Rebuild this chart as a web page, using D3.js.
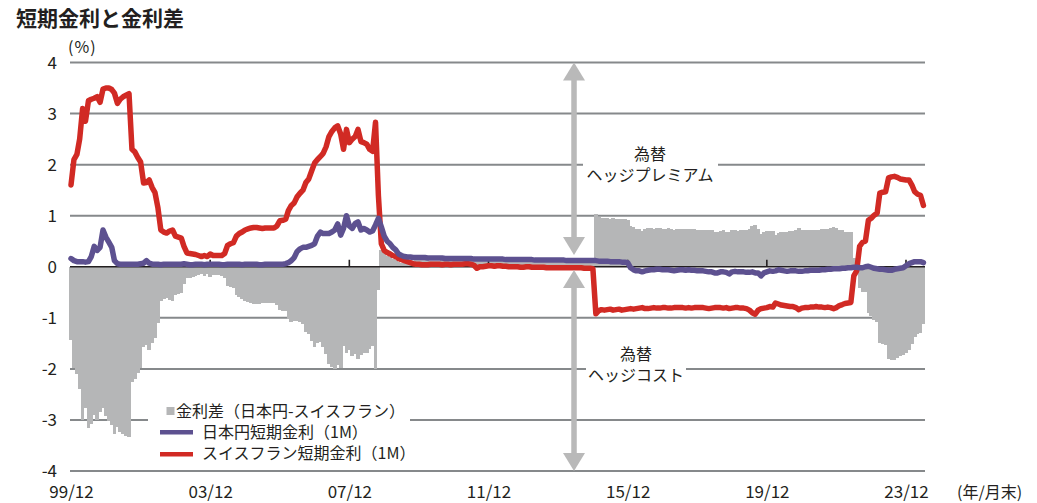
<!DOCTYPE html>
<html>
<head>
<meta charset="utf-8">
<script src="https://cdn.jsdelivr.net/npm/d3@7"></script>
<style>
  body { margin: 0; background: #fff; }
  text { font-family: "Noto Sans CJK JP", "Noto Sans", sans-serif; fill: #231f20; }
</style>
</head>
<body>
<div id="svgcontainer"></div>
<script>
// monthly data, first month 99/12, last 24/6
const firstMonth = "1999-12";

// japanese yen 1M rate (%)
const jpy1m = [
  0.16,
  // 2000
  0.12, 0.10, 0.10, 0.10, 0.09, 0.10, 0.20, 0.40, 0.32, 0.38, 0.72, 0.58,
  // 2001
  0.48, 0.38, 0.12, 0.06, 0.05, 0.05, 0.05, 0.05, 0.05, 0.05, 0.05, 0.06,
  // 2002
  0.07, 0.12, 0.07, 0.05, 0.05, 0.05, 0.04, 0.05, 0.05, 0.05, 0.05, 0.05,
  // 2003
  0.05, 0.05, 0.06, 0.05, 0.04, 0.04, 0.05, 0.05, 0.05, 0.04, 0.05, 0.05,
  // 2004
  0.05, 0.05, 0.05, 0.04, 0.04, 0.05, 0.05, 0.05, 0.05, 0.05, 0.04, 0.05,
  // 2005
  0.05, 0.05, 0.05, 0.05, 0.04, 0.04, 0.05, 0.05, 0.05, 0.05, 0.05, 0.05,
  // 2006
  0.05, 0.06, 0.08, 0.12, 0.18, 0.30, 0.35, 0.38, 0.38, 0.40, 0.42, 0.45,
  // 2007
  0.60, 0.68, 0.65, 0.65, 0.65, 0.68, 0.72, 0.84, 0.62, 0.75, 1.00, 0.80,
  // 2008
  0.75, 0.85, 0.88, 0.72, 0.75, 0.72, 0.68, 0.70, 0.82, 0.95, 0.78, 0.60,
  // 2009
  0.50, 0.45, 0.38, 0.33, 0.25, 0.22, 0.20, 0.19, 0.19, 0.18, 0.18, 0.18,
  // 2010
  0.18, 0.18, 0.17, 0.17, 0.17, 0.17, 0.17, 0.17, 0.16, 0.16, 0.16, 0.16,
  // 2011
  0.16, 0.16, 0.16, 0.16, 0.16, 0.16, 0.15, 0.15, 0.15, 0.15, 0.15, 0.15,
  // 2012
  0.15, 0.15, 0.15, 0.15, 0.15, 0.14, 0.14, 0.14, 0.14, 0.14, 0.14, 0.14,
  // 2013
  0.14, 0.14, 0.14, 0.13, 0.13, 0.13, 0.13, 0.13, 0.13, 0.13, 0.13, 0.13,
  // 2014
  0.13, 0.13, 0.12, 0.12, 0.12, 0.12, 0.12, 0.12, 0.12, 0.12, 0.12, 0.12,
  // 2015
  0.12, 0.11, 0.11, 0.11, 0.11, 0.10, 0.10, 0.10, 0.10, 0.09, 0.09, 0.08,
  // 2016
  -0.02, -0.06, -0.08, -0.08, -0.10, -0.08, -0.07, -0.06, -0.06, -0.05, -0.05, -0.06,
  // 2017
  -0.06, -0.06, -0.07, -0.08, -0.07, -0.06, -0.06, -0.07, -0.06, -0.07, -0.07, -0.08,
  // 2018
  -0.08, -0.08, -0.09, -0.10, -0.10, -0.12, -0.12, -0.10, -0.10, -0.11, -0.14, -0.10,
  // 2019
  -0.09, -0.10, -0.10, -0.10, -0.11, -0.11, -0.10, -0.12, -0.12, -0.18, -0.12, -0.10,
  // 2020
  -0.08, -0.09, -0.08, -0.06, -0.07, -0.08, -0.09, -0.08, -0.08, -0.08, -0.09, -0.09,
  // 2021
  -0.08, -0.08, -0.07, -0.07, -0.07, -0.07, -0.06, -0.06, -0.05, -0.05, -0.04, -0.04,
  // 2022
  -0.04, -0.03, -0.03, -0.02, -0.02, -0.01, -0.01, -0.02, -0.02, 0.00, 0.01, -0.01,
  // 2023
  -0.03, -0.04, -0.05, -0.05, -0.06, -0.07, -0.07, -0.05, -0.04, -0.03, -0.02, 0.02,
  // 2024
  0.06, 0.08, 0.10, 0.10, 0.10, 0.08
];

// swiss franc 1M rate (%)
const chf1m = [
  1.60,
  // 2000
  2.10, 2.20, 2.50, 3.10, 2.85, 3.25, 3.28, 3.30, 3.33, 3.22, 3.48, 3.50,
  // 2001
  3.50, 3.47, 3.40, 3.20, 3.28, 3.33, 3.36, 3.39, 2.30, 2.25, 2.14, 2.05,
  // 2002
  1.64, 1.65, 1.70, 1.55, 1.45, 1.15, 0.72, 0.68, 0.66, 0.70, 0.72, 0.60,
  // 2003
  0.58, 0.56, 0.40, 0.27, 0.26, 0.25, 0.24, 0.22, 0.20, 0.22, 0.20, 0.25,
  // 2004
  0.22, 0.22, 0.22, 0.22, 0.26, 0.42, 0.45, 0.47, 0.60, 0.65, 0.68, 0.72,
  // 2005
  0.74, 0.76, 0.77, 0.77, 0.76, 0.75, 0.76, 0.76, 0.76, 0.76, 0.80, 0.90,
  // 2006
  0.91, 0.93, 1.10, 1.20, 1.25, 1.37, 1.44, 1.50, 1.65, 1.72, 1.88, 2.03,
  // 2007
  2.10, 2.16, 2.22, 2.35, 2.55, 2.65, 2.72, 2.76, 2.60, 2.30, 2.69, 2.43,
  // 2008
  2.50, 2.55, 2.69, 2.45, 2.43, 2.40, 2.30, 2.26, 2.83, 1.40, 0.45, 0.32,
  // 2009
  0.28, 0.25, 0.22, 0.20, 0.16, 0.14, 0.12, 0.10, 0.08, 0.06, 0.05, 0.05,
  // 2010
  0.04, 0.04, 0.04, 0.05, 0.05, 0.05, 0.05, 0.04, 0.05, 0.05, 0.04, 0.05,
  // 2011
  0.05, 0.05, 0.05, 0.06, 0.06, 0.05, 0.03, -0.03, 0.00, 0.00, 0.01, 0.02,
  // 2012
  0.02, 0.01, 0.02, 0.02, 0.01, 0.01, 0.00, 0.00, 0.00, 0.00, -0.01, -0.01,
  // 2013
  0.00, 0.00, -0.01, -0.01, -0.01, -0.01, -0.01, -0.02, -0.02, -0.02, -0.02, -0.02,
  // 2014
  -0.02, -0.02, -0.02, -0.02, -0.02, -0.02, -0.02, -0.02, -0.03, -0.03, -0.03, -0.04,
  // 2015
  -0.92, -0.86, -0.84, -0.85, -0.84, -0.83, -0.85, -0.84, -0.83, -0.85, -0.84, -0.83,
  // 2016
  -0.82, -0.83, -0.82, -0.81, -0.80, -0.82, -0.82, -0.81, -0.80, -0.81, -0.81, -0.80,
  // 2017
  -0.80, -0.81, -0.81, -0.80, -0.80, -0.80, -0.80, -0.81, -0.80, -0.81, -0.80, -0.80,
  // 2018
  -0.80, -0.80, -0.81, -0.82, -0.81, -0.80, -0.80, -0.80, -0.81, -0.80, -0.82, -0.81,
  // 2019
  -0.80, -0.80, -0.81, -0.81, -0.82, -0.85, -0.90, -0.93, -0.85, -0.82, -0.81, -0.80,
  // 2020
  -0.78, -0.79, -0.71, -0.73, -0.75, -0.76, -0.77, -0.78, -0.78, -0.80, -0.84, -0.81,
  // 2021
  -0.80, -0.80, -0.79, -0.79, -0.78, -0.79, -0.79, -0.80, -0.79, -0.80, -0.82, -0.80,
  // 2022
  -0.76, -0.74, -0.72, -0.71, -0.70, -0.18, -0.08, 0.40, 0.48, 0.50, 0.91, 0.95,
  // 2023
  1.01, 1.05, 1.44, 1.46, 1.47, 1.74, 1.76, 1.77, 1.75, 1.72, 1.71, 1.70,
  // 2024
  1.70, 1.60, 1.47, 1.42, 1.40, 1.20
];

const xTickLabels = ["99/12", "03/12", "07/12", "11/12", "15/12", "19/12", "23/12"];
const yTicks = [-4, -3, -2, -1, 0, 1, 2, 3, 4];

const legendLabels = ["金利差（日本円-スイスフラン）", "日本円短期金利（1M）", "スイスフラン短期金利（1M）"];

// container dimensions
const width = 1037;
const height = 503;
const plotLeft = 70;
const plotRight = 925;

const gridColor = "#86898b";
const barColor = "#b5b6b7";
const jpyColor = "#5d5190";
const chfColor = "#d12a24";
const arrowColor = "#b9b9b9";

const parseMonth = d3.timeParse("%Y-%m");
const parseTick = d3.timeParse("%y/%m");

const start = parseMonth(firstMonth);
const months = jpy1m.map((d, i) => d3.timeMonth.offset(start, i));
const spread = jpy1m.map((d, i) => d - chf1m[i]);
const xTickDates = xTickLabels.map(parseTick);

const x = d3.scaleTime()
    .domain([xTickDates[0], xTickDates[xTickDates.length - 1]])
    .range([71, 906]);

const y = d3.scaleLinear()
    .domain([-4, 4])
    .range([471, 62.5]);

const svg = d3.select("#svgcontainer")
    .append("svg").attr("width", width).attr("height", height);

svg.append("rect")
    .attr("width", width)
    .attr("height", height)
    .attr("fill", "white");

// title
svg.append("text")
    .attr("x", 16)
    .attr("y", 26)
    .attr("font-size", 21)
    .attr("font-weight", "bold")
    .text("短期金利と金利差");

// unit
svg.append("text")
    .attr("x", 68)
    .attr("y", 53)
    .attr("font-size", 16)
    .attr("letter-spacing", 1)
    .text("(%)");

// grid lines
svg.append("g")
    .selectAll("line")
    .data(yTicks.filter(v => v !== 0))
    .join("line")
    .attr("x1", plotLeft)
    .attr("x2", plotRight)
    .attr("y1", d => y(d))
    .attr("y2", d => y(d))
    .attr("stroke", gridColor)
    .attr("stroke-width", 2);

// spread bars
const barWidth = (x(xTickDates[1]) - x(xTickDates[0])) / 48 + 0.8;

svg.append("g")
    .attr("shape-rendering", "crispEdges")
    .selectAll("rect")
    .data(spread)
    .join("rect")
    .attr("x", (d, i) => x(months[i]) - barWidth / 2)
    .attr("y", d => y(Math.max(0, d)))
    .attr("width", barWidth)
    .attr("height", d => Math.abs(y(d) - y(0)))
    .attr("fill", barColor);

// zero line
svg.append("line")
    .attr("x1", plotLeft)
    .attr("x2", plotRight)
    .attr("y1", y(0))
    .attr("y2", y(0))
    .attr("stroke", "#231f20")
    .attr("stroke-width", 1.6);

// little ticks on zero line
svg.append("g")
    .selectAll("line")
    .data(xTickDates.slice(1))
    .join("line")
    .attr("x1", d => x(d))
    .attr("x2", d => x(d))
    .attr("y1", y(0))
    .attr("y2", y(0) - 7)
    .attr("stroke", "#231f20")
    .attr("stroke-width", 1.6);

// y axis labels
const yAxis = svg.append("g")
    .attr("transform", `translate(${plotLeft},0.5)`)
    .call(d3.axisLeft(y).tickValues(yTicks).tickFormat(d => String(d))
        .tickSize(0).tickPadding(13));
yAxis.select(".domain").remove();
yAxis.selectAll("text")
    .attr("font-size", 17)
    .attr("font-family", null)
    .attr("fill", null);

// x axis labels
const xAxis = svg.append("g")
    .attr("transform", "translate(0,486)")
    .call(d3.axisBottom(x).tickValues(xTickDates)
        .tickFormat(d3.timeFormat("%y/%m")).tickSize(0).tickPadding(0));
xAxis.select(".domain").remove();
xAxis.selectAll("text")
    .attr("font-size", 17)
    .attr("font-family", null)
    .attr("fill", null);

svg.append("text")
    .attr("x", 957)
    .attr("y", 498)
    .attr("font-size", 16)
    .text("(年/月末)");

// rate lines
const line = d3.line()
    .x((d, i) => x(months[i]))
    .y(d => y(d));

svg.append("path")
    .datum(chf1m)
    .attr("d", line)
    .attr("fill", "none")
    .attr("stroke", chfColor)
    .attr("stroke-width", 5.5)
    .attr("stroke-linejoin", "round")
    .attr("stroke-linecap", "round");

svg.append("path")
    .datum(jpy1m)
    .attr("d", line)
    .attr("fill", "none")
    .attr("stroke", jpyColor)
    .attr("stroke-width", 5.5)
    .attr("stroke-linejoin", "round")
    .attr("stroke-linecap", "round");

// double headed arrows
const arrowX = x(parseMonth("2014-05")) + 1.5;
const headW = 11;
const headH = 18;

function drawArrow(yTop, yBottom) {
    svg.append("line")
        .attr("x1", arrowX)
        .attr("x2", arrowX)
        .attr("y1", yTop + headH - 1)
        .attr("y2", yBottom - headH + 1)
        .attr("stroke", arrowColor)
        .attr("stroke-width", 5.5);
    svg.append("path")
        .attr("d", `M${arrowX},${yTop} L${arrowX - headW},${yTop + headH} L${arrowX + headW},${yTop + headH} Z`)
        .attr("fill", arrowColor);
    svg.append("path")
        .attr("d", `M${arrowX},${yBottom} L${arrowX - headW},${yBottom - headH} L${arrowX + headW},${yBottom - headH} Z`)
        .attr("fill", arrowColor);
}

drawArrow(y(4), 255);
drawArrow(270, y(-4));

// annotation labels
function drawNote(cx, lines, boxX, boxW, yTop) {
    svg.append("rect")
        .attr("x", boxX)
        .attr("y", yTop)
        .attr("width", boxW)
        .attr("height", 42)
        .attr("fill", "white");
    lines.forEach((t, i) => {
        svg.append("text")
            .attr("x", cx)
            .attr("y", yTop + 15 + i * 21)
            .attr("text-anchor", "middle")
            .attr("font-size", 16)
            .text(t);
    });
}

drawNote(650, ["為替", "ヘッジプレミアム"], 583, 135, 145);
drawNote(636, ["為替", "ヘッジコスト"], 586, 100, 345);

// legend
svg.append("rect")
    .attr("x", 148)
    .attr("y", 401)
    .attr("width", 262)
    .attr("height", 62)
    .attr("fill", "white");

svg.append("rect")
    .attr("x", 166.5)
    .attr("y", 407)
    .attr("width", 8)
    .attr("height", 8)
    .attr("fill", barColor);

svg.append("rect")
    .attr("x", 160)
    .attr("y", 430)
    .attr("width", 33)
    .attr("height", 4.5)
    .attr("fill", jpyColor);

svg.append("rect")
    .attr("x", 160)
    .attr("y", 452)
    .attr("width", 33)
    .attr("height", 4.5)
    .attr("fill", chfColor);

svg.append("g")
    .selectAll("text")
    .data(legendLabels)
    .join("text")
    .attr("x", (d, i) => i === 0 ? 176 : 202)
    .attr("y", (d, i) => 417 + i * 21)
    .attr("font-size", 16)
    .text(d => d);
</script>
</body>
</html>
